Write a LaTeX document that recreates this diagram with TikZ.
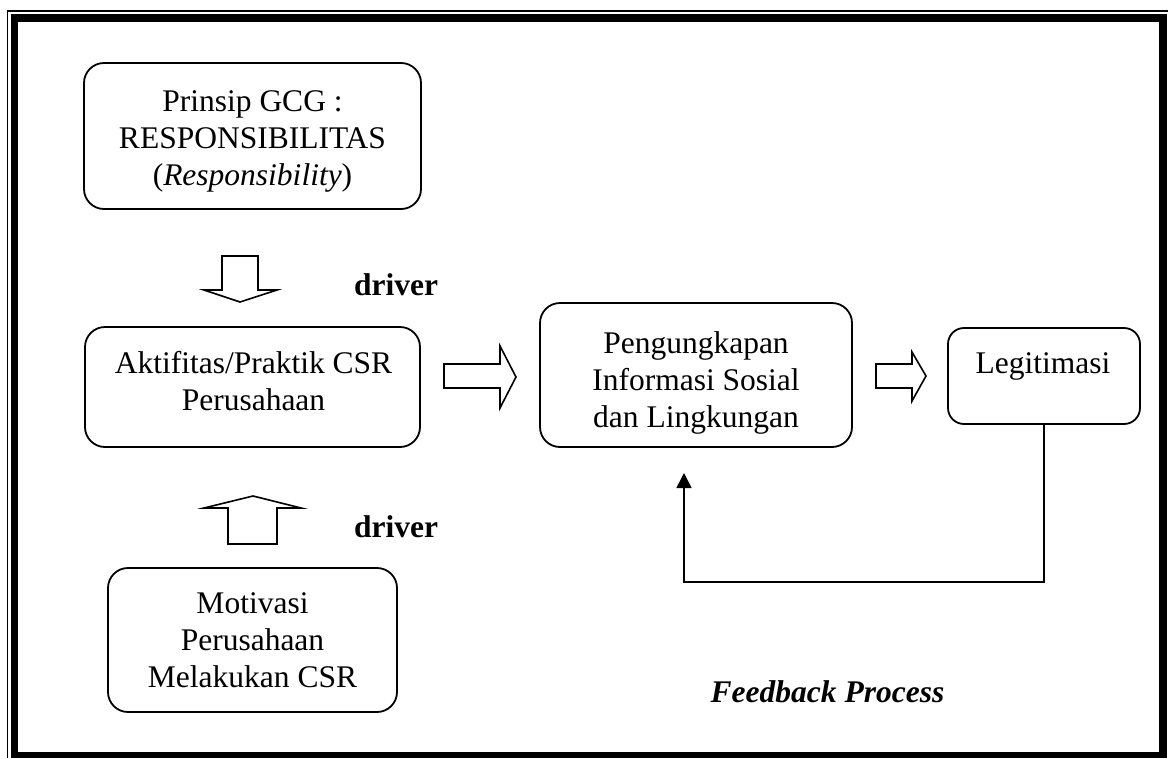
\documentclass[tikz,border=0pt]{standalone}
\usepackage{fontspec}
\setmainfont{Liberation Serif}
\usetikzlibrary{arrows.meta,calc}

\tikzset{
  box/.style={draw, line width=1.8pt, rounded corners=20pt, inner sep=0pt, fill=white},
  boxtext/.style={anchor=base, align=center, inner sep=0pt,
    font=\fontsize{31.5}{37}\selectfont},
  lbl/.style={anchor=base, inner sep=0pt, font=\fontsize{31.5}{37}\selectfont\bfseries},
  blockarrow/.style={draw, line width=1.6pt, fill=white, line join=miter},
  feedback/.style={line width=1.6pt, -{Triangle[length=15pt,width=15pt]}},
}

\begin{document}
\begin{tikzpicture}[x=1pt,y=-1pt]
\useasboundingbox (0,0) rectangle (1168,758);
\begin{scope}
\clip (0,0) rectangle (1168,758);
% page frame: thin outer rule and thick inner rule
\draw[line width=1.8pt] (7.5,770) -- (7.5,10.8) -- (1180,10.8);
\draw[line width=7.6pt] (14.6,18) rectangle (1163.2,756);
\end{scope}

% boxes
\node[box, minimum width=337pt, minimum height=146pt] (gcg)   at (252.5,136) {};
\node[box, minimum width=335pt, minimum height=120pt] (csr)   at (252.5,387) {};
\node[box, minimum width=312pt, minimum height=144pt] (info)  at (696,375) {};
\node[box, minimum width=192pt, minimum height=96pt, rounded corners=16pt] (legit) at (1044,376) {};
\node[box, minimum width=289pt, minimum height=144pt] (motiv) at (252.5,640) {};

% box texts (anchored at the baseline of the last line)
\node[boxtext] (gcgt) at (252.5,185) {Prinsip GCG :\\RESPONSIBILITAS\\(\textit{Responsibility})};
\node[boxtext] (csrt) at (253.5,410) {Aktifitas/Praktik CSR\\Perusahaan};
\node[boxtext] (infot) at (696,427) {Pengungkapan\\Informasi Sosial\\dan Lingkungan};
\node[boxtext] (legitt) at (1043,373) {Legitimasi};
\node[boxtext] (motivt) at (252.5,687) {Motivasi\\Perusahaan\\Melakukan CSR};

% block arrows
\draw[blockarrow] (222,256) -- (258,256) -- (258,290) -- (277,290) -- (240,302)
  -- (204,290) -- (222,290) -- cycle;
\draw[blockarrow] (228,544) -- (277,544) -- (277,508) -- (301,508) -- (253,496)
  -- (204,508) -- (228,508) -- cycle;
\draw[blockarrow] (444,364) -- (500,364) -- (500,346) -- (516,377) -- (500,408)
  -- (500,388) -- (444,388) -- cycle;
\draw[blockarrow] (876,364) -- (912,364) -- (912,352) -- (926,376) -- (912,401)
  -- (912,388) -- (876,388) -- cycle;

% labels
\node[lbl] (drv1) at (396,295) {driver};
\node[lbl] (drv2) at (396,537) {driver};
\node[lbl, font=\fontsize{31.5}{37}\selectfont\bfseries\itshape] (fb) at (827.5,702) {Feedback Process};

% feedback loop
\coordinate (fbend) at (684,473);
\draw[feedback] (legit.south) -- (1044,582) -- (684,582) -- (fbend);
\end{tikzpicture}
\end{document}
